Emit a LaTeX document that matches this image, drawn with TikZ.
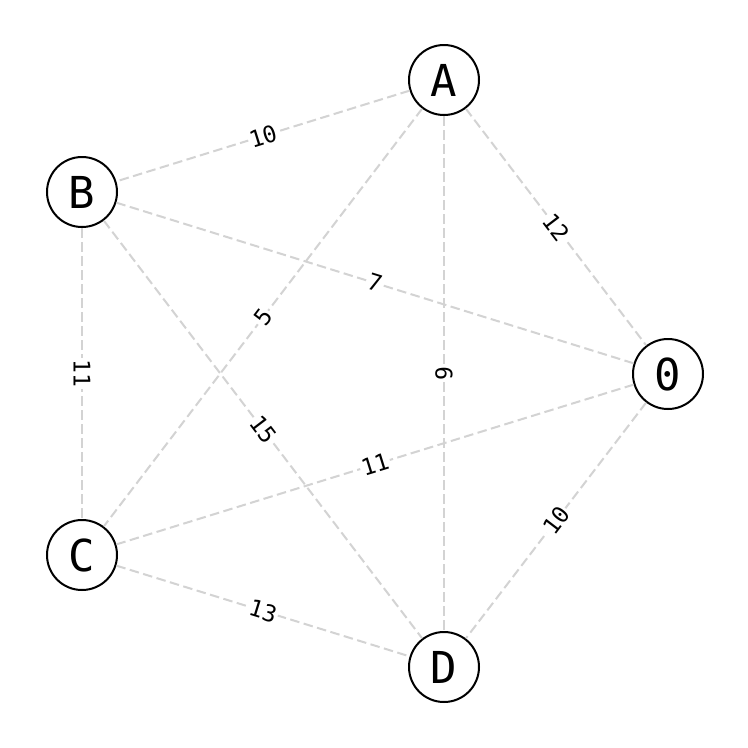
\documentclass[tikz,border=0pt]{standalone}
\usepackage{fontspec}
\setmainfont{DejaVu Sans Mono}
\begin{document}
\begin{tikzpicture}[x=1pt,y=-1pt,
  vertex/.style={circle,draw=black,line width=2pt,fill=white,minimum size=70pt,inner sep=0pt,font=\fontsize{44}{44}\selectfont},
  edge/.style={draw={rgb,255:red,211;green,211;blue,211},line width=2pt,dash pattern=on 9.5pt off 4.5pt},
  elabel/.style={fill=white,inner sep=1.5pt,font=\fontsize{23}{23}\selectfont,text=black,midway}]
\fill[white] (0,0) rectangle (748,748);
\useasboundingbox (0,0) rectangle (748,748);
\node[vertex] (A) at (444,80) {A};
\node[vertex] (B) at (82,192) {B};
\node[vertex] (N0) at (668,374) {0};
\node[vertex] (C) at (82,555) {C};
\node[vertex] (D) at (444,667) {D};
\draw[edge] (A) -- node[elabel,rotate=17.2] (lAB) {10} (B);
\draw[edge] (A) -- node[elabel,rotate=-52.7] (lA0) {12} (N0);
\draw[edge] (A) -- node[elabel,rotate=52.7] (lAC) {5} (C);
\draw[edge] (A) -- node[elabel,rotate=90] (lAD) {9} (D);
\draw[edge] (B) -- node[elabel,rotate=-17.2] (lB0) {7} (N0);
\draw[edge] (B) -- node[elabel,rotate=-90] (lBC) {11} (C);
\draw[edge] (B) -- node[elabel,rotate=-52.7] (lBD) {15} (D);
\draw[edge] (C) -- node[elabel,rotate=17.2] (lC0) {11} (N0);
\draw[edge] (C) -- node[elabel,rotate=-17.2] (lCD) {13} (D);
\draw[edge] (N0) -- node[elabel,rotate=52.7] (l0D) {10} (D);
\end{tikzpicture}
\end{document}
